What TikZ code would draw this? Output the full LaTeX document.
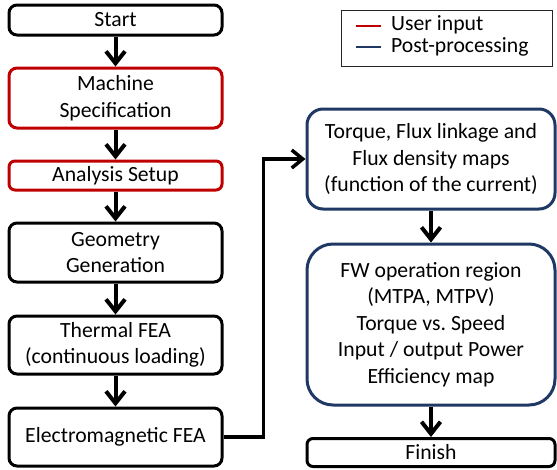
\documentclass[tikz,border=0pt]{standalone}
\usepackage{fontspec}
\setmainfont{Carlito}
\frenchspacing
\usetikzlibrary{arrows.meta}
\definecolor{userred}{HTML}{C00000}
\definecolor{postblue}{HTML}{1F3864}
\begin{document}
\begin{tikzpicture}[x=1pt,y=-1pt,
  box/.style={draw=black,line width=3pt,rounded corners=8pt,align=center,
    inner sep=0pt,font=\fontsize{21.7pt}{26.5pt}\selectfont},
  userbox/.style={box,draw=userred},
  postbox/.style={box,draw=postblue,rounded corners=16pt},
  arr/.style={line width=4pt,-{Straight Barb[length=12pt,width=19pt]}},
  conn/.style={line width=3.5pt,-{Straight Barb[length=11pt,width=18pt]}},
  legtext/.style={anchor=west,inner sep=0pt,font=\fontsize{21.7pt}{26.5pt}\selectfont}]
\useasboundingbox (0,0) rectangle (557,469);
% left column
\node[box,minimum width=213pt,minimum height=30pt] (start) at (115.5,20) {Start};
\node[userbox,minimum width=213pt,minimum height=60pt] (spec) at (115.5,98) {Machine\\Specification};
\node[userbox,minimum width=213pt,minimum height=29pt,rounded corners=6pt] (setup) at (115.5,175.5) {Analysis Setup};
\node[box,minimum width=213pt,minimum height=59pt] (geom) at (115.5,252.5) {Geometry\\Generation};
\node[box,minimum width=213pt,minimum height=58pt] (therm) at (115.5,345) {Thermal FEA\\(continuous loading)};
\node[box,minimum width=213pt,minimum height=58pt] (em) at (115.5,437) {Electromagnetic FEA};
% right column
\node[postbox,minimum width=248pt,minimum height=100pt] (maps) at (431,159) {Torque, Flux linkage and\\Flux density maps\\(function of the current)};
\node[postbox,minimum width=248pt,minimum height=161pt,rounded corners=26pt] (fw) at (431,324.5) {FW operation region\\(MTPA, MTPV)\\Torque vs. Speed\\Input / output Power\\Efficiency map};
\node[box,minimum width=248pt,minimum height=28pt,rounded corners=6pt] (finish) at (431,452.5) {Finish};
% legend
\node[draw=black!85,line width=1pt,minimum width=211pt,minimum height=56pt,inner sep=0pt] (legend) at (447,38.5) {};
\coordinate (ra) at (356,26); \coordinate (rb) at (381,26);
\coordinate (ba) at (356,47); \coordinate (bb) at (381,47);
\draw[userred,line width=2.5pt] (ra) -- (rb);
\draw[postblue,line width=2.5pt] (ba) -- (bb);
\node[legtext] (lu) at (391,25) {User input};
\node[legtext] (lp) at (391,47) {Post-processing};
% arrows
\draw[arr] (start) -- (spec);
\draw[arr] (spec) -- (setup);
\draw[arr] (setup) -- (geom);
\draw[arr] (geom) -- (therm);
\draw[arr] (therm) -- (em);
\draw[arr] (maps) -- (fw);
\draw[arr] (fw) -- (finish);
\draw[conn,rounded corners=0pt] (em.east) -- ++(40,0) |- (maps.west);
\end{tikzpicture}
\end{document}
